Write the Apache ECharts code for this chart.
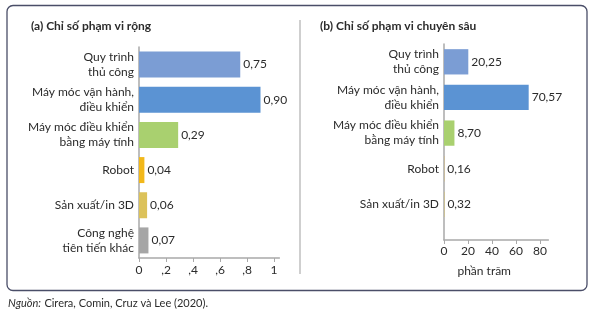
<!DOCTYPE html>
<html><head><meta charset="utf-8">
<script src="https://cdn.jsdelivr.net/npm/echarts@6/dist/echarts.min.js"></script>
<style>html,body{margin:0;padding:0;background:#fff}#c{width:596px;height:315px}</style>
</head><body><div id="c"></div>
<script>
const catsA = ['Quy trình\nthủ công','Máy móc vận hành,\nđiều khiển','Máy móc điều khiển\nbằng máy tính','Robot','Sản xuất/in 3D','Công nghệ\ntiên tiến khác'];
const valsA = [0.75, 0.90, 0.29, 0.04, 0.06, 0.07];
const catsB = ['Quy trình\nthủ công','Máy móc vận hành,\nđiều khiển','Máy móc điều khiển\nbằng máy tính','Robot','Sản xuất/in 3D'];
const valsB = [20.25, 70.57, 8.70, 0.16, 0.32];
const colors = ['#7b9dd4','#5b93d3','#a9d06f','#f2b81a','#dcc25a','#a6a6a6'];
const ticksA = [0, 0.2, 0.4, 0.6, 0.8, 1];
const ticksB = [0, 20, 40, 60, 80];
const titleA = '(a) Chỉ số phạm vi rộng';
const titleB = '(b) Chỉ số phạm vi chuyên sâu';
const xNameB = 'phần trăm';

const FONT = 'Lato';
const TXT = '#2b2b2b';
const fmtA = v => v === 0 ? '0' : (v === 1 ? '1' : ',' + Math.round(v*10));
const fmtComma = d => d.toFixed(2).replace('.', ',');

const chart = echarts.init(document.getElementById('c'), null, {renderer:'canvas'});
const axisLineStyle = {color:'#a9a9a9', width:1.5};
chart.setOption({
  animation:false,
  textStyle:{fontFamily:FONT},
  graphic:[
    {type:'rect', shape:{x:7, y:5.5, width:580, height:285, r:6}, style:{fill:'none', stroke:'#4a4e68', lineWidth:1.3}, z:-1},
    {type:'line', shape:{x1:300, y1:20, x2:300, y2:274}, style:{stroke:'#cfcfcf', lineWidth:2}},
    {type:'text', left:31, top:20, style:{text:titleA, font:'bold 12px '+FONT, fill:TXT}},
    {type:'text', left:320, top:20, style:{text:titleB, font:'bold 12px '+FONT, fill:TXT}},
    {type:'text', left:8, top:297, style:{rich:{i:{fontStyle:'italic', fontSize:11, fontFamily:FONT, fill:TXT}, n:{fontSize:11, fontFamily:FONT, fill:TXT}}, text:'{i|Nguồn:} {n|Cirera, Comin, Cruz và Lee (2020).}'}}
  ],
  grid:[
    {left:139, top:47, width:140.4, height:211},
    {left:444, top:44, width:104.4, height:196}
  ],
  xAxis:[
    {gridIndex:0, type:'value', min:0, max:1.04, splitLine:{show:false},
      axisLine:{show:true, onZero:false, lineStyle:axisLineStyle},
      axisTick:{show:true, length:4, customValues:ticksA, lineStyle:{color:'#a9a9a9'}},
      axisLabel:{customValues:ticksA, formatter:fmtA, color:TXT, fontSize:12, margin:6, fontFamily:FONT}},
    {gridIndex:1, type:'value', min:0, max:87, splitLine:{show:false},
      axisLine:{show:true, onZero:false, lineStyle:axisLineStyle},
      axisTick:{show:true, length:4, customValues:ticksB, lineStyle:{color:'#a9a9a9'}},
      axisLabel:{customValues:ticksB, color:TXT, fontSize:12, margin:5, fontFamily:FONT},
      name:xNameB, nameLocation:'middle', nameGap:25, nameTextStyle:{color:TXT, fontSize:12, fontFamily:FONT, padding:[0,24,0,0]}}
  ],
  yAxis:[
    {gridIndex:0, type:'category', data:catsA, inverse:true,
      axisLine:{show:true, lineStyle:axisLineStyle}, axisTick:{show:false},
      axisLabel:{color:TXT, fontSize:12, lineHeight:15, margin:5, fontFamily:FONT}},
    {gridIndex:1, type:'value', inverse:true, min:-0.5, max:5, splitLine:{show:false},
      axisLine:{show:true, onZero:false, lineStyle:axisLineStyle}, axisTick:{show:false},
      axisLabel:{customValues:catsB.map((c,i)=>i), formatter:v=>catsB[v] || '', color:TXT, fontSize:12, lineHeight:15, margin:5, fontFamily:FONT}}
  ],
  series:[
    {type:'bar', xAxisIndex:0, yAxisIndex:0, barWidth:26,
      data:valsA.map((v,i)=>({value:v, itemStyle:{color:colors[i]}})),
      label:{show:true, position:'right', distance:3, color:TXT, fontSize:12, fontFamily:FONT, formatter:p=>fmtComma(p.value)}},
    {type:'custom', xAxisIndex:1, yAxisIndex:1,
      data:valsB.map((v,i)=>[v, i]),
      encode:{x:0, y:1},
      renderItem:function(params, api){
        const v = api.value(0), idx = api.value(1);
        const p0 = api.coord([0, idx]);
        const p1 = api.coord([v, idx]);
        const bandH = Math.abs(api.size([0, 1])[1]);
        const h = bandH * 0.71;
        return {type:'group', children:[
          {type:'rect', shape:{x:p0[0], y:p0[1]-h/2, width:p1[0]-p0[0], height:h}, style:{fill:colors[idx]}},
          {type:'text', x:p1[0]+3, y:p1[1], style:{text:fmtComma(v), fill:TXT, font:'12px '+FONT, verticalAlign:'middle', align:'left'}}
        ]};
      }}
  ]
});
</script></body></html>
